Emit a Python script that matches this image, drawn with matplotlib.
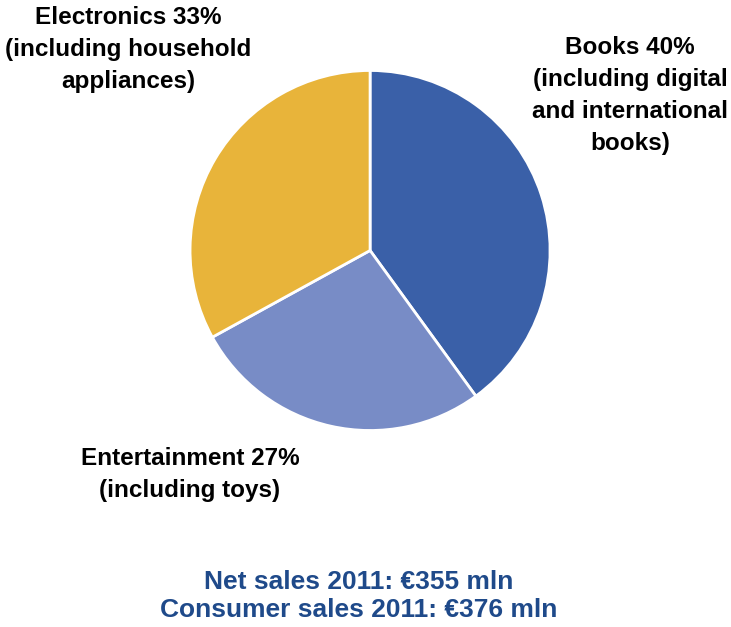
import matplotlib.pyplot as plt

plt.rcParams['font.family'] = ['Liberation Sans', 'DejaVu Sans']

segments = ['Books', 'Entertainment', 'Electronics']
shares = [40, 27, 33]
notes = ['(including digital\nand international\nbooks)',
         '(including toys)',
         '(including household\nappliances)']
colors = ['#3a60a8', '#788cc6', '#e8b43a']
net_sales = 355
consumer_sales = 376
year = 2011

fig = plt.figure(figsize=(7.31, 6.27), dpi=100)
ax = fig.add_axes([0.26, 0.313, 0.4925, 0.575])
ax.pie(shares, colors=colors, startangle=90, counterclock=False,
       wedgeprops=dict(edgecolor='white', linewidth=2))
ax.set_xlim(-1, 1)
ax.set_ylim(-1, 1)
ax.set_aspect('equal')

# label spots in figure fractions (x, y of top line)
label_pos = [(0.862, 0.942), (0.26, 0.287), (0.175, 0.99)]
for name, s, note, (x, y) in zip(segments, shares, notes, label_pos):
    fig.text(x, y, f'{name} {s}%\n{note}', ha='center', va='top',
             fontsize=17.5, fontweight='bold', color='black', linespacing=1.5)

fig.text(0.49, 0.05, f'Net sales {year}: €{net_sales} mln\n'
         f'Consumer sales {year}: €{consumer_sales} mln',
         ha='center', va='center', fontsize=19, fontweight='bold',
         color='#1f4a8a', linespacing=1.2)

fig.savefig('out.png', dpi=100)
